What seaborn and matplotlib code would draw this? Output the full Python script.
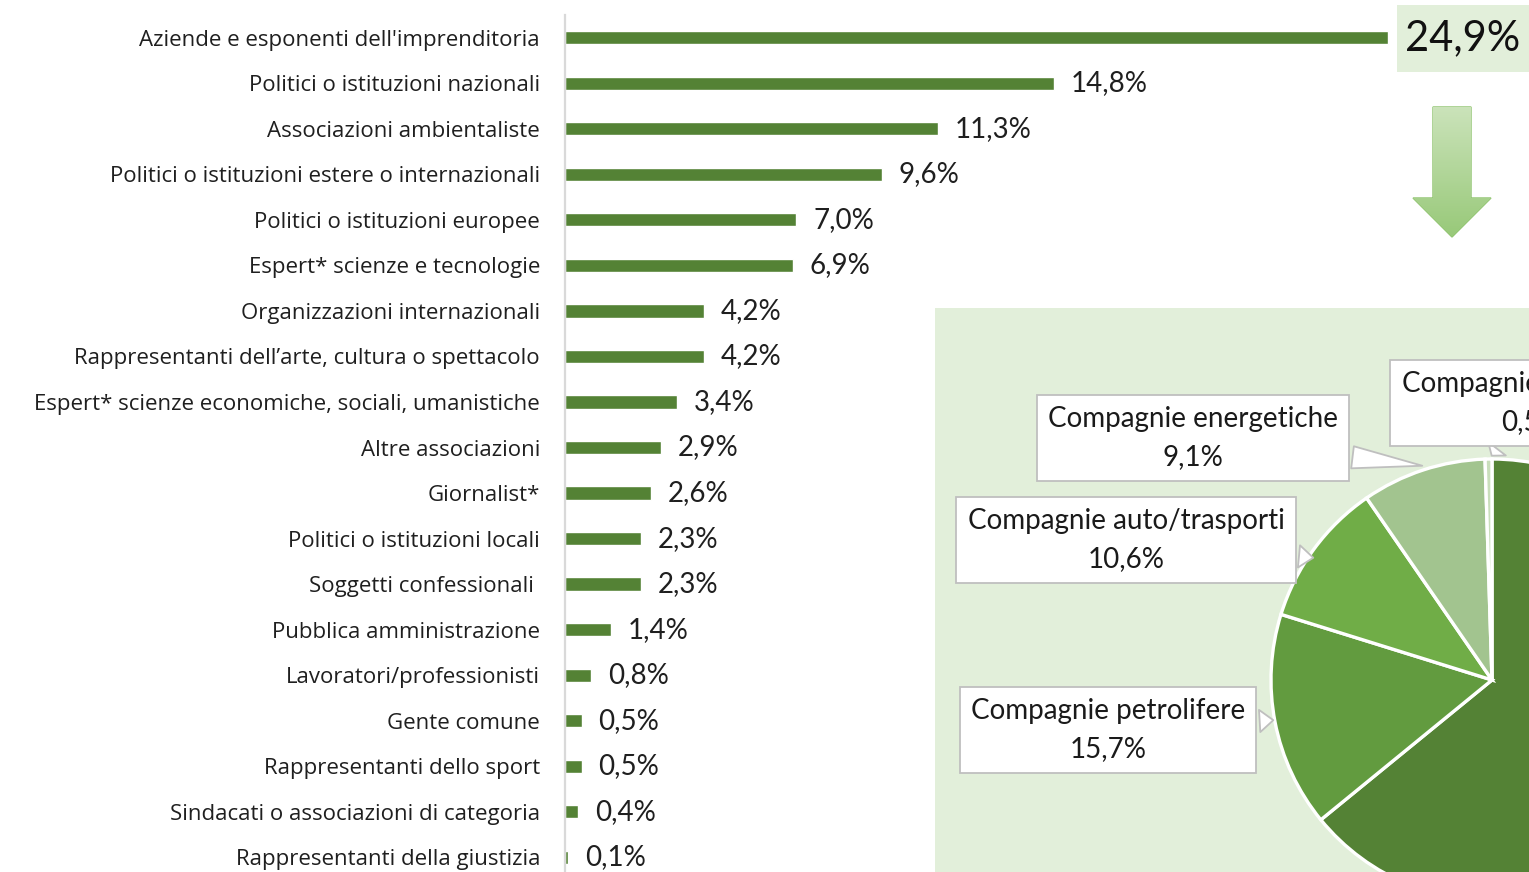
import numpy as np
import matplotlib
matplotlib.use('Agg')
import matplotlib.pyplot as plt
from matplotlib.patches import Rectangle, Polygon
from matplotlib.colors import LinearSegmentedColormap
import seaborn as sns

sns.set_theme(style='white')
plt.rcParams['font.family'] = ['Lato', 'DejaVu Sans']

W, H = 1529, 872

# bar chart data
categories = [
    "Aziende e esponenti dell'imprenditoria",
    "Politici o istituzioni nazionali",
    "Associazioni ambientaliste",
    "Politici o istituzioni estere o internazionali",
    "Politici o istituzioni europee",
    "Espert* scienze e tecnologie",
    "Organizzazioni internazionali",
    "Rappresentanti dell\u2019arte, cultura o spettacolo",
    "Espert* scienze economiche, sociali, umanistiche",
    "Altre associazioni",
    "Giornalist*",
    "Politici o istituzioni locali",
    "Soggetti confessionali ",
    "Pubblica amministrazione",
    "Lavoratori/professionisti",
    "Gente comune",
    "Rappresentanti dello sport",
    "Sindacati o associazioni di categoria",
    "Rappresentanti della giustizia",
]
shares = [24.9, 14.8, 11.3, 9.6, 7.0, 6.9, 4.2, 4.2, 3.4, 2.9,
          2.6, 2.3, 2.3, 1.4, 0.8, 0.5, 0.5, 0.4, 0.1]

# pie data (breakdown of the 24,9%)
company_types = ['Altre aziende', 'Compagnie petrolifere', 'Compagnie auto/trasporti',
                 'Compagnie energetiche', 'Compagnie minerarie']
company_shares = [64.1, 15.7, 10.6, 9.1, 0.5]
company_colors = ['#548235', '#629B3F', '#70AD47', '#A2C48F', '#C9DEBB']


def fmt(v):
    return f'{v:.1f}'.replace('.', ',') + '%'


def ffrac(px, py):
    # pixel (from top-left) -> figure fraction
    return px / W, 1 - py / H


fig = plt.figure(figsize=(W / 100, H / 100), dpi=100)

# background overlay: pie panel, highlight box, arrow
bg = fig.add_axes([0, 0, 1, 1], zorder=-1)
bg.set_xlim(0, W)
bg.set_ylim(H, 0)
bg.axis('off')
bg.add_patch(Rectangle((935, 308), W - 935, H - 308, facecolor='#E2EFDA', edgecolor='none'))
bg.add_patch(Rectangle((1397, 5), W - 1397, 67, facecolor='#E2EFDA', edgecolor='none'))
arrow_pts = [(1433, 107), (1471, 107), (1471, 198), (1491, 198), (1452, 237),
             (1413, 198), (1433, 198)]
arrow = Polygon(arrow_pts, closed=True, facecolor='none', edgecolor='#8DC26C', lw=1)
bg.add_patch(arrow)
grad_cmap = LinearSegmentedColormap.from_list('g', ['#CBE3BA', '#98C979'])
img = bg.imshow(np.linspace(0, 1, 100)[:, None], cmap=grad_cmap, aspect='auto',
                extent=(1413, 1491, 237, 107), zorder=1)
img.set_clip_path(arrow)

# bar chart
ax = fig.add_axes([565 / W, -8 / H, 30 * 33.05 / W, 865 / H])
sns.barplot(x=shares, y=categories, orient='h', color='#548235', saturation=1,
            width=0.29, ax=ax)
ax.set_xlim(0, 30)
ax.set_xlabel('')
ax.set_ylabel('')
ax.set_xticks([])
for s in ['top', 'right', 'bottom']:
    ax.spines[s].set_visible(False)
ax.spines['left'].set_color('#D9D9D9')
ax.spines['left'].set_linewidth(1.6)
ax.tick_params(axis='y', length=0, pad=18, labelsize=16, labelcolor='#1f1f1f')
for t in ax.get_yticklabels():
    t.set_fontfamily(['Open Sans', 'DejaVu Sans'])
ax.patch.set_alpha(0)

labels = [''] + [fmt(v) for v in shares[1:]]
ax.bar_label(ax.containers[0], labels=labels, padding=12, fontsize=20, color='#1f1f1f')
ax.annotate(fmt(shares[0]), xy=(shares[0], 0), xytext=(54, 0), textcoords='offset points',
            ha='center', va='center', fontsize=30, color='#111111')

# pie chart
pax = fig.add_axes([1271 / W, -29 / H, 442 / W, 442 / H])
pax.pie(company_shares, colors=company_colors, startangle=90, counterclock=False,
        radius=1, wedgeprops=dict(edgecolor='white', linewidth=2.4))
pax.set_xlim(-1, 1)
pax.set_ylim(-1, 1)
pax.patch.set_alpha(0)

callouts = [
    (1, (-0.977, -0.181), (1108, 730)),
    (2, (-0.796, 0.552), (1126, 540)),
    (3, (-0.303, 0.968), (1193, 438)),
    (4, (-0.009, 1.005), (1532, 403)),
]
for i, xy, txy in callouts:
    pax.annotate(f'{company_types[i]}\n{fmt(company_shares[i])}', xy=xy,
                 xytext=ffrac(*txy), textcoords='figure fraction',
                 ha='center', va='center', fontsize=20, color='#1a1a1a',
                 linespacing=1.55, annotation_clip=False,
                 bbox=dict(boxstyle='square,pad=0.4', facecolor='white',
                           edgecolor='#BFBFBF', lw=1.3),
                 arrowprops=dict(arrowstyle='wedge,tail_width=0.8,shrink_factor=0.5',
                                 facecolor='white', edgecolor='#BFBFBF', lw=1.3))

fig.savefig('out.png', dpi=100)
